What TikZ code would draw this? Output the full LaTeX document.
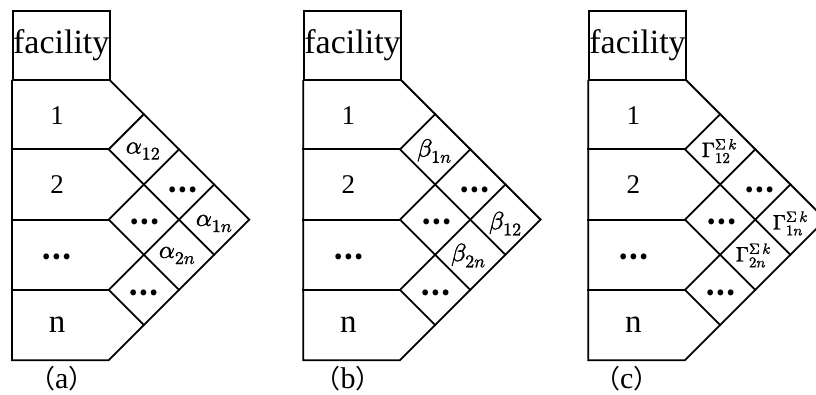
\documentclass[tikz,border=0pt]{standalone}
\usepackage{fontspec}
\usepackage{unicode-math}
\setmainfont{Liberation Serif}
\setmathfont{Latin Modern Math}[FakeBold=1.2]
\newfontfamily\cjkfont{Noto Sans CJK SC}
\newcommand{\scr}[2]{\mbox{\fontsize{#1}{#1}\selectfont$#2$}}
\tikzset{
  frame/.style={line width=1.8pt, line join=miter, line cap=rect},
  factext/.style={font=\fontsize{34}{34}\selectfont, inner sep=0pt},
  rowtext/.style={font=\fontsize{27}{27}\selectfont, inner sep=0pt},
  rowletter/.style={font=\fontsize{33}{33}\selectfont, inner sep=0pt},
  dotstext/.style={font=\cjkfont\bfseries\fontsize{27}{27}\selectfont, inner sep=0pt},
  captext/.style={font=\fontsize{30}{30}\selectfont, inner sep=0pt},
}
\newcommand{\facpanel}[8]{%
\begin{scope}[xshift=#2pt]
  \node[draw, frame, factext, minimum width=96.7pt, minimum height=69.3pt,
        anchor=north west] (#1fac) at (12,9.7) {facility};
  \coordinate (#1y1l) at (12,149.3);
  \coordinate (#1y2l) at (12,219.6);
  \coordinate (#1y3l) at (12,289.9);
  \coordinate (#1y4l) at (12,360.2);
  \coordinate (#1y1r) at (108.7,149.3);
  \coordinate (#1y2r) at (108.7,219.6);
  \coordinate (#1y3r) at (108.7,289.9);
  \coordinate (#1y4r) at (108.7,360.2);
  \coordinate (#1apex) at (249.3,219.6);
  \coordinate (#1ua) at (143.85,114.15);
  \coordinate (#1ub) at (179,149.3);
  \coordinate (#1uc) at (214.15,184.45);
  \coordinate (#1la) at (214.15,254.75);
  \coordinate (#1lb) at (179,289.9);
  \coordinate (#1lc) at (143.85,325.05);
  \draw[frame] (#1fac.south west) -- (#1y4l) -- (#1y4r) -- (#1apex) -- (#1fac.south east);
  \draw[frame] (#1y1l) -- (#1y1r) (#1y2l) -- (#1y2r) (#1y3l) -- (#1y3r);
  \draw[frame] (#1ua) -- (#1y1r) -- (#1la);
  \draw[frame] (#1ub) -- (#1y2r) -- (#1lb);
  \draw[frame] (#1uc) -- (#1y3r) -- (#1lc);
  \node[rowtext] (#1r1) at (57,116) {1};
  \node[rowtext] (#1r2) at (57,184.5) {2};
  \node[dotstext] (#1r3) at (57,257) {…};
  \node[rowletter] (#1r4) at (57,325) {n};
  \node[font=\fontsize{#8}{#8}\selectfont, inner sep=0pt] (#1c1) at (143,151) {#3};
  \node[font=\fontsize{#8}{#8}\selectfont, inner sep=0pt] (#1c2) at (214,223.5) {#4};
  \node[font=\fontsize{#8}{#8}\selectfont, inner sep=0pt] (#1c3) at (177,255.5) {#5};
  \node[dotstext] (#1d1) at (145,221.5) {…};
  \node[dotstext] (#1d2) at (183,190) {…};
  \node[dotstext] (#1d3) at (144,293) {…};
  \node[captext] (#1cap) at (#7,379) {{\cjkfont\fontsize{26}{26}\selectfont （}#6{\cjkfont\fontsize{26}{26}\selectfont ）}};
\end{scope}}
\begin{document}
\begin{tikzpicture}[x=1pt,y=-1pt]
  \useasboundingbox (0,0) rectangle (816,394);
  \clip (0,0) rectangle (816,394);
  \fill[white] (0,0) rectangle (816,394);
  \facpanel{a}{0}{$\alpha_{\scr{18}{12}}$}{$\alpha_{\scr{18}{1n}}$}{$\alpha_{\scr{18}{2n}}$}{a}{61.7}{25}
  \facpanel{b}{291.3}{$\beta_{\scr{18}{1n}}$}{$\beta_{\scr{18}{12}}$}{$\beta_{\scr{18}{2n}}$}{b}{56.7}{25}
  \facpanel{c}{576.3}{$\Gamma^{\scr{15}{\Sigma\,k}}_{\scr{15}{12}}$}{$\Gamma^{\scr{15}{\Sigma\,k}}_{\scr{15}{1n}}$}{$\Gamma^{\scr{15}{\Sigma\,k}}_{\scr{15}{2n}}$}{c}{50.4}{21}
\end{tikzpicture}
\end{document}
